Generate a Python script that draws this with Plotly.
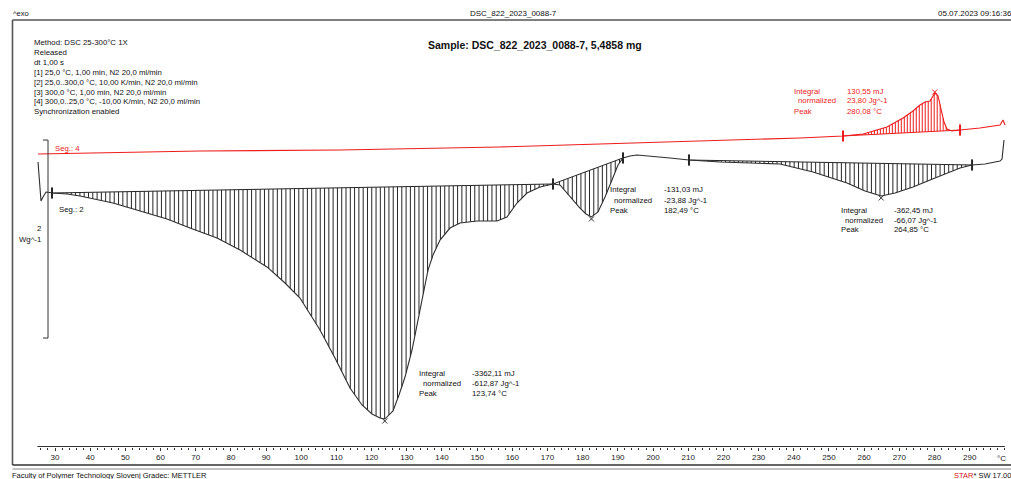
import numpy as np
import plotly.graph_objects as go

W, H = 1011, 479
FONT = "Liberation Sans"

# ---------------- data ----------------
# Segment 2 : heating curve, temperature in °C, heat flow in W/g (exo up)
heat_T = [25.17, 25.74, 26.02, 26.59, 27.44, 28.58, 29.15, 31.42, 33.41, 37.11, 41.37,
          46.49, 51.32, 57.00, 61.84, 68.37, 76.05, 82.59, 90.26, 95.38, 99.64, 105.33,
          109.59, 113.86, 117.27, 120.11, 122.38, 123.74, 126.08, 127.78, 129.49, 131.48,
          132.90, 134.32, 136.03, 137.45, 139.44, 142.28, 145.12, 149.96, 155.64, 158.48,
          161.32, 164.17, 167.86, 171.56, 173.55, 176.39, 179.23, 180.94, 182.49, 184.35,
          186.34, 188.33, 190.03, 191.45, 193.44, 195.43, 199.12, 204.81, 210.22, 219.03,
          227.56, 236.09, 245.47, 255.13, 260.25, 264.85, 268.78, 273.90, 278.73, 283.56,
          287.26, 290.67, 294.37, 298.63, 299.19, 299.76]
heat_W = [0.313, 0.081, -0.081, -0.040, 0.010, 0.005, 0.000, -0.005, -0.010, -0.030, -0.061,
          -0.101, -0.152, -0.212, -0.263, -0.354, -0.455, -0.576, -0.747, -0.909, -1.061, -1.384,
          -1.667, -1.970, -2.141, -2.232, -2.273, -2.283, -2.202, -2.040, -1.859, -1.586,
          -1.313, -1.081, -0.778, -0.626, -0.475, -0.354, -0.303, -0.283, -0.283, -0.242,
          -0.101, 0.000, 0.061, 0.091, 0.081, -0.040, -0.152, -0.212, -0.242, -0.192,
          -0.040, 0.131, 0.283, 0.354, 0.374, 0.384, 0.374, 0.354, 0.333, 0.313,
          0.303, 0.293, 0.212, 0.101, 0.020, -0.030, 0.000, 0.061, 0.131, 0.202,
          0.253, 0.283, 0.293, 0.323, 0.343, 0.535]

# Segment 4 : cooling curve
cool_T = [25.17, 42.79, 71.22, 111.00, 156.49, 184.92, 213.34, 241.77, 253.99, 259.70,
          261.67, 266.50, 271.05, 273.90, 275.88, 277.31, 278.73, 279.58, 280.08, 281.00,
          281.85, 282.70, 283.56, 284.98, 287.26, 292.94, 298.63, 299.48, 300.05]
cool_W = [0.394, 0.404, 0.424, 0.434, 0.465, 0.495, 0.525, 0.556, 0.576, 0.596,
          0.616, 0.667, 0.758, 0.828, 0.889, 0.919, 0.929, 0.980, 1.010, 0.980,
          0.859, 0.717, 0.646, 0.626, 0.636, 0.657, 0.687, 0.737, 0.687]

# integration limits (°C)
heat_limits = [(29.15, 171.56), (171.56, 191.45), (210.22, 290.67)]
cool_limits = [(253.99, 287.26)]
heat_peaks = [123.74, 182.49, 264.85]
cool_peaks = [280.08]

tick_vals = list(range(30, 300, 10))
minor_vals = [v for v in range(26, 301, 2) if v % 10 != 0] + [300]

method_lines = ["Method: DSC 25-300°C 1X", "Released", "dt 1,00 s",
                "[1] 25,0 °C, 1,00 min, N2 20,0 ml/min",
                "[2] 25,0..300,0 °C, 10,00 K/min, N2 20,0 ml/min",
                "[3] 300,0 °C, 1,00 min, N2 20,0 ml/min",
                "[4] 300,0..25,0 °C, -10,00 K/min, N2 20,0 ml/min",
                "Synchronization enabled"]

results = [  # (labels x px, values x px, top y px, color, values)
    (417, 470, 373, "#111111", ["-3362,11 mJ", "-612,87 Jg^-1", "123,74 °C"]),
    (608, 662, 190, "#111111", ["-131,03 mJ", "-23,88 Jg^-1", "182,49 °C"]),
    (839, 892, 210, "#111111", ["-362,45 mJ", "-66,07 Jg^-1", "264,85 °C"]),
    (792, 845, 91, "#ee1c1c", ["130,55 mJ", "23,80 Jg^-1", "280,08 °C"]),
]

# ---------------- geometry ----------------
PX_PER_C = 3.518
X0_PX = 55.0           # pixel of 30 °C
PX_PER_W = 99.0
Y0_PX = 193.0          # pixel of 0 W/g
xr = [30 - X0_PX / PX_PER_C, 30 + (W - X0_PX) / PX_PER_C]
yr = [(Y0_PX - H) / PX_PER_W, Y0_PX / PX_PER_W]

BLACK = "#2e2e2e"
RED = "#ee1c1c"

fig = go.Figure()


def hatch(T, Wv, limits, step, color, width):
    T = np.asarray(T); Wv = np.asarray(Wv)
    xs, ys = [], []
    for a, b in limits:
        ya, yb = np.interp(a, T, Wv), np.interp(b, T, Wv)
        # baseline
        fig.add_trace(go.Scatter(x=[a, b], y=[ya, yb], mode="lines",
                                 line=dict(color=color, width=1), hoverinfo="skip",
                                 showlegend=False))
        ts = np.arange(a + step * 0.5, b, step)
        for t in ts:
            c = np.interp(t, T, Wv)
            bl = ya + (yb - ya) * (t - a) / (b - a)
            xs += [t, t, None]
            ys += [bl, c, None]
    fig.add_trace(go.Scatter(x=xs, y=ys, mode="lines", line=dict(color=color, width=width),
                             hoverinfo="skip", showlegend=False))
    # limit markers
    lx = sorted(set([v for ab in limits for v in ab]))
    fig.add_trace(go.Scatter(x=lx, y=np.interp(lx, T, Wv), mode="markers",
                             marker=dict(symbol="line-ns", size=8,
                                         line=dict(color=color, width=2)),
                             hoverinfo="skip", showlegend=False))


hatch(heat_T, heat_W, heat_limits, 1.22, "#262626", 1.0)
hatch(cool_T, cool_W, cool_limits, 0.85, RED, 1.0)

fig.add_trace(go.Scatter(x=heat_T, y=heat_W, mode="lines", line=dict(color=BLACK, width=1.1),
                         showlegend=False, name="Seg. 2"))
fig.add_trace(go.Scatter(x=cool_T, y=cool_W, mode="lines", line=dict(color=RED, width=1.1),
                         showlegend=False, name="Seg. 4"))

fig.add_trace(go.Scatter(x=heat_peaks, y=np.interp(heat_peaks, heat_T, heat_W) - 0.02,
                         mode="markers", marker=dict(symbol="x-thin", size=5,
                                                     line=dict(color=BLACK, width=1)),
                         showlegend=False))
fig.add_trace(go.Scatter(x=cool_peaks, y=np.interp(cool_peaks, cool_T, cool_W) + 0.01,
                         mode="markers", marker=dict(symbol="x-thin", size=5,
                                                     line=dict(color=RED, width=1)),
                         showlegend=False))

# ---------------- decorations ----------------
def px(x):
    return x / W


def py(y):
    return 1 - y / H


shapes = []


def pline(x0, y0, x1, y1, color="#444", width=1.0):
    shapes.append(dict(type="line", xref="paper", yref="paper", x0=px(x0), y0=py(y0),
                       x1=px(x1), y1=py(y1), line=dict(color=color, width=width)))


pline(12.5, 20, W + 2, 20, "#555", 1.6)       # top rule
pline(12.5, 20, 12.5, 465, "#555", 1.6)       # left rule
pline(12.5, 465, W + 2, 465, "#333", 1.6)     # bottom rule
pline(12.5, 469, W + 2, 469, "#888", 1.0)
# x axis line from 25 to 300 °C
shapes.append(dict(type="line", xref="x", yref="paper", x0=25, x1=300, y0=py(446.5),
                   y1=py(446.5), line=dict(color="#333", width=1)))
# 2 W/g scale bar
shapes.append(dict(type="line", xref="paper", yref="y", x0=px(48), x1=px(48),
                   y0=0.535, y1=0.535 - 2.0, line=dict(color="#333", width=1)))
for yv in (0.535, 0.535 - 2.0):
    shapes.append(dict(type="line", xref="paper", yref="y", x0=px(43), x1=px(48),
                       y0=yv, y1=yv, line=dict(color="#333", width=1)))

ann = []


def txt(x, y, s, size=8, color="#111", anchor="left", bold=False):
    if bold:
        s = "<b>" + s + "</b>"
    ann.append(dict(x=px(x), y=py(y), xref="paper", yref="paper", text=s, showarrow=False,
                    xanchor=anchor, yanchor="middle",
                    font=dict(family=FONT, size=size, color=color)))


txt(11, 13, "^exo", 7.5)
txt(513, 14, "DSC_822_2023_0088-7", 8, anchor="center")
txt(1014, 14, "05.07.2023 09:16:36", 8, anchor="right")
txt(535, 45, "Sample: DSC_822_2023_0088-7, 5,4858 mg", 10.5, anchor="center", bold=True)
for i, s in enumerate(method_lines):
    txt(31.5, 43 + i * 9.8, s, 7.8)
txt(57, 209, "Seg.: 2", 7.8)
txt(53, 149, "Seg.: 4", 7.8, color=RED)
txt(43, 229, "2", 7.8, anchor="right")
txt(43, 239, "Wg^-1", 7.8, anchor="right")
for lx, vx, ty, col, vals in results:
    txt(lx, ty, "Integral", 7.8, col)
    txt(lx + 4, ty + 10, "normalized", 7.8, col)
    txt(lx, ty + 20, "Peak", 7.8, col)
    for j, v in enumerate(vals):
        txt(vx, ty + j * 10, v, 7.8, col)
ann.append(dict(x=299, y=py(458), xref="x", yref="paper", text="°C", showarrow=False,
                xanchor="center", yanchor="middle", font=dict(family=FONT, size=8, color="#222")))
txt(10, 475, "Faculty of Polymer Technology Slovenj Gradec: METTLER", 7.5)
txt(1013, 475, "<span style='color:#d42020'>STAR</span>* SW 17.00", 7.5, anchor="right")

fig.update_layout(
    width=W, height=H, margin=dict(l=0, r=0, t=0, b=0, pad=0),
    paper_bgcolor="white", plot_bgcolor="white", showlegend=False,
    shapes=shapes, annotations=ann,
    xaxis=dict(range=xr, domain=[0, 1], anchor="free", position=py(446.5),
               showgrid=False, zeroline=False, showline=False, automargin=False,
               tickmode="array", tickvals=tick_vals, ticks="outside", ticklen=3,
               tickwidth=1, tickcolor="#333",
               tickfont=dict(family=FONT, size=8, color="#222"),
               minor=dict(tickmode="array", tickvals=minor_vals, ticks="outside",
                          ticklen=2, tickwidth=1, tickcolor="#333", showgrid=False)),
    yaxis=dict(range=yr, domain=[0, 1], visible=False, showgrid=False, zeroline=False),
)

fig.write_html("out.html")
